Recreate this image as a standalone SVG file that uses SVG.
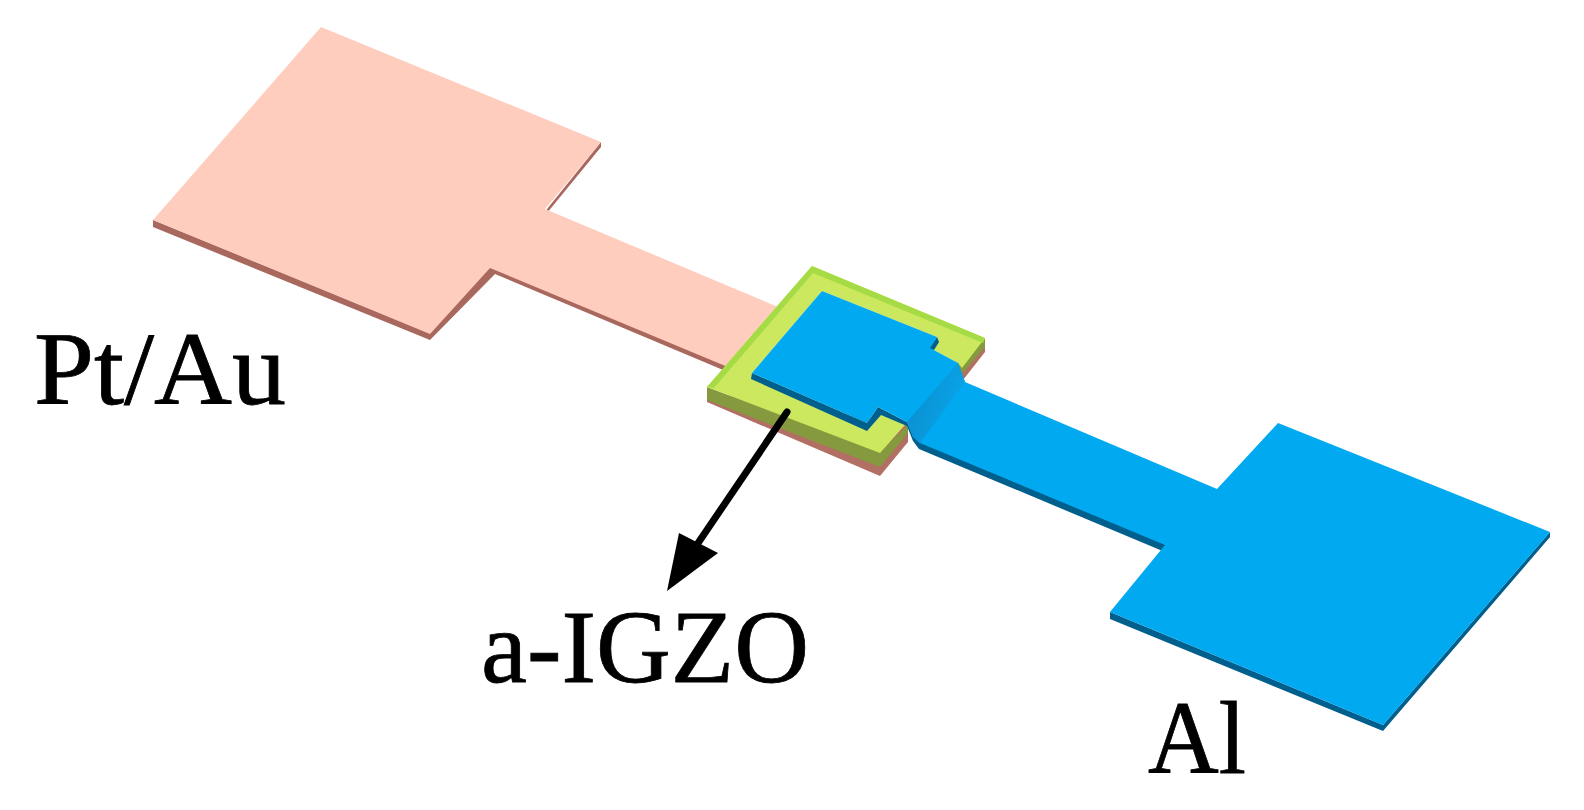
<svg xmlns="http://www.w3.org/2000/svg" width="1584" height="810" viewBox="0 0 1584 810">
<style>
.lbl{font-family:"Liberation Serif","Noto Serif",serif;fill:#000;font-size:104px;stroke:#000;stroke-width:.8px}
.pink{fill:#ffcdbe}.pinks{fill:#a9685e}
.blue{fill:#00a9f0}.blues{fill:#005f8d}
</style>
<defs><linearGradient id="ramp" x1="0" y1="0" x2="1" y2="0.4"><stop offset="0" stop-color="#0a8ccb"/><stop offset="1" stop-color="#0aa3e8"/></linearGradient></defs>
<rect width="1584" height="810" fill="#fff"/>
<g id="pt-au-electrode">
<path class="pinks" d="M153 220V227L430 340L495 274L735 375V366L490 266L430 333Z"/>
<path class="pinks" d="M601 142V147L547 213V209Z"/>
<path class="pink" d="M321 27L601 142L545 209L790 312L735 370L490 268L430 334L153 220Z"/>
</g>
<g id="a-igzo-layer">
<path fill="#b26f63" d="M707 392V402L880 476L908 442V425Z"/>
<path fill="#b26f63" d="M985 338V352L963 380L950 372Z"/>
<path fill="#85993f" d="M707 387V400L880 467L908 433V425L880 452Z"/>
<path fill="#85993f" d="M985 338V347L963 373L955 360Z"/>
<path fill="#cce85f" d="M812 266L985 338L962 368L937 337L822 291L752 373L867 423L878 407L905 425L880 453L707 387Z"/>
<path fill="#cce85f" d="M937 337L930 348L958 363L985 338Z"/>
<path fill="#a5dc45" d="M812 266L985 338L983 343L813 273L714 388L707 387Z"/>
</g>
<g id="al-electrode">
<path class="blues" d="M1110 612V619L1383 731L1550 537V532L1383 725Z"/>
<path class="blues" d="M752 373L751 379L867 431L881 415L907 426L913 441L919 449L1165 552L1170 545L918 440L907 422L878 407L867 423Z"/>
<path class="blues" d="M937 337L929 349L934 350L939 342Z"/>
<path class="blue" d="M822 291L937 337L930 348L958 363L965 382L1217 489L1278 423L1550 532L1383 725L1110 612L1165 545L920 443L913 437L907 422L878 407L867 423L752 373Z"/>
<path fill="url(#ramp)" d="M958 363L965 382L920 443L913 437L907 422Z"/>
</g>
<g id="connectors">
<line x1="787" y1="412" x2="692" y2="552" stroke="#000" stroke-width="7" stroke-linecap="round"/>
<path d="M667 591L679 533L718 553Z" fill="#000"/>
</g>
<g id="labels">
<text id="label-pt-au" class="lbl" x="34" y="404" textLength="252" lengthAdjust="spacingAndGlyphs">Pt/Au</text>
<text id="label-igzo" class="lbl" x="481" y="682" textLength="328" lengthAdjust="spacingAndGlyphs">a-IGZO</text>
<text id="label-al" class="lbl" x="1153" y="776" textLength="98" lengthAdjust="spacingAndGlyphs" transform="translate(-5 -3)">Al</text>
</g>
</svg>
